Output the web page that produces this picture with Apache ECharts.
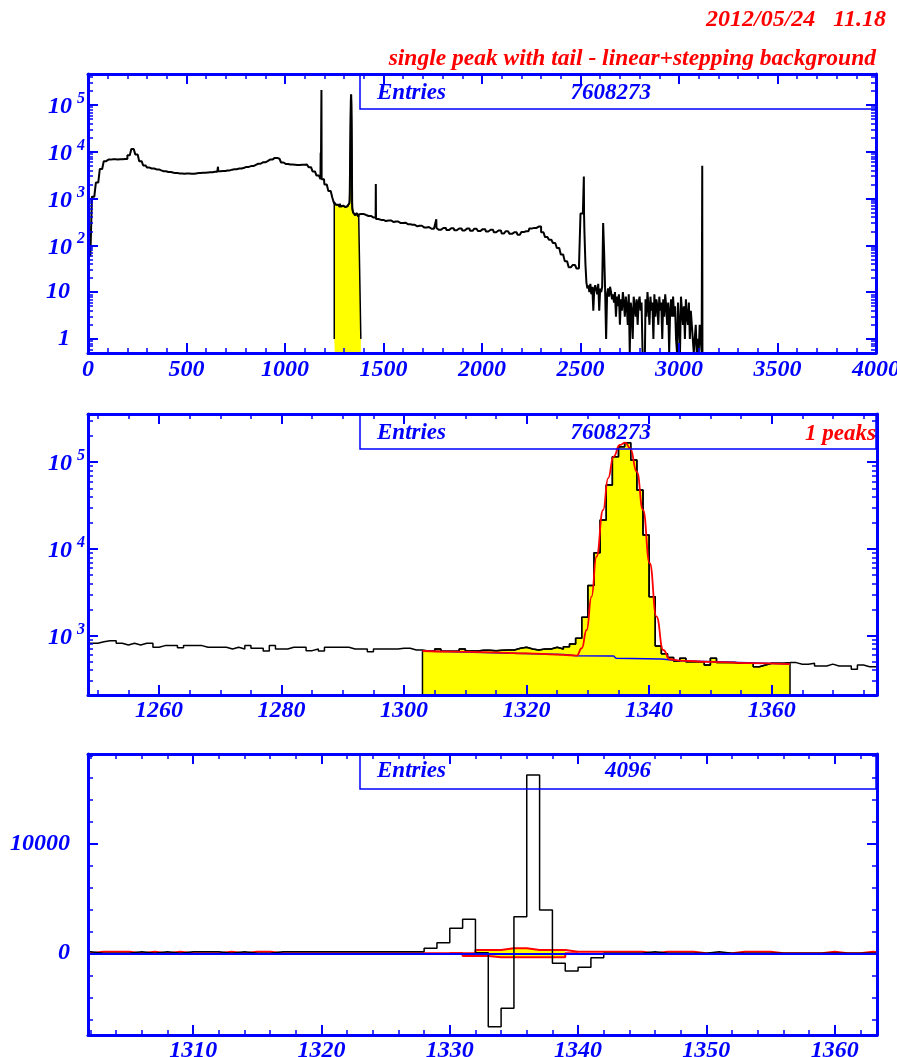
<!DOCTYPE html>
<html><head><meta charset="utf-8">
<script src="https://cdn.jsdelivr.net/npm/echarts@6.0.0/dist/echarts.min.js"></script>
<style>html,body{margin:0;padding:0;background:#fff}#c{width:897px;height:1057px}</style>
</head><body><div id="c"></div>
<script>
// ================= DATA =================
// Panel 1: full spectrum (channels), coarse 20-channel bins from 0 to 2520
const topCoarseStart = 0;
const topCoarseWidth = 20;
const topCoarseCounts = [
  60, 1100, 2200, 4300, 6300, 6800, 6900, 6850, 6900, 7000,
  8400, 11500, 8800, 6300, 5100, 4600, 4400, 4200, 4000, 3850,
  3700, 3600, 3500, 3450, 3400, 3420, 3380, 3450, 3500, 3550,
  3600, 3650, 3750, 3850, 3900, 4000, 4150, 4250, 4400, 4550,
  4750, 4950, 5250, 5550, 5950, 6300, 6800, 7400, 7100, 5900,
  5500, 5350, 5300, 5250, 5300, 5350, 4700, 3800, 3100, 2600,
  2000, 1450, 1050, 760, 720, 700, 690, 480, 470, 470,
  445, 425, 395, 365, 350, 330, 340, 315, 322, 300,
  305, 282, 275, 255, 262, 240, 246, 226, 234, 215,
  236, 212, 232, 210, 230, 208, 228, 204, 226, 202,
  222, 198, 216, 190, 208, 180, 200, 176, 190, 168,
  192, 200, 228, 236, 252, 190, 150, 132, 112, 88,
  64, 46, 34, 38, 32, 480
];
// fine 5-channel bins from 2520 to 3120 (noisy tail)
const topFineStart = 2520;
const topFineWidth = 5;
const topFineCounts = [
  190, 40,
  16, 12, 14, 10, 15, 9, 13, 4, 12, 14, 11, 9, 15, 4, 12, 10, 13, 300, 70, 11, 1, 9, 12, 8, 13, 10, 7,
  9, 6, 10, 3, 8, 5, 9, 2, 7, 4, 10, 6, 3, 8, 5, 2, 9, 0, 6, 4, 1, 8, 5, 3, 7, 2, 6,
  8, 4, 6, 0, 0, 0, 7, 3, 10, 5, 2, 8, 4, 6, 1, 9, 3, 7, 5, 2, 8, 4, 6, 1, 7, 3, 9, 5, 2, 6, 0, 4, 7, 3,
  8, 3, 5, 1, 0, 6, 2, 0, 8, 4, 2, 5, 1, 7, 3, 2, 6, 1, 4, 2,
  2, 0, 1, 2, 0, 1, 0, 2, 1, 0
];
// single-channel lines
const topSpikeChannels = [660, 1181, 1185, 1461, 1768, 2517, 3118];
const topSpikeCounts   = [4800, 9500, 210000, 2050, 360, 2970, 5000];
const topHighlightRange = [1250, 1385];
const topHighlightEdgeBase = 1;

// Panel 2: zoomed region, 1-channel bins starting at 1248
const zoomStart = 1248;
const zoomCounts = [
  817, 817, 850, 876, 876, 820, 782, 817, 782, 817,
  817, 735, 768, 768, 768, 728, 768, 768, 768, 735,
  735, 735, 735, 703, 735, 703, 768, 716, 716, 666,
  768, 703, 703, 735, 735, 735, 672, 703, 666, 735,
  735, 735, 735, 703, 703, 703, 654, 703, 703, 703,
  703, 716, 716, 684, 684, 666, 666, 703, 660, 660,
  660, 703, 666, 666, 680, 680, 670, 680, 684, 684,
  716, 735, 703, 684, 703, 703, 735, 703, 747, 802,
  933, 1630, 3780, 9060, 21600, 54700, 116000, 151000, 168000, 106000,
  48000, 14500, 2820, 760, 620, 560, 510, 548, 502, 502,
  502, 459, 548, 490, 490, 490, 480, 480, 480, 439,
  459, 480, 480, 480, 489, 489, 468, 468, 480, 448,
  448, 470, 448, 448, 448, 410, 459, 439, 439, 439
];
const fitRange = [1303, 1363];
const fitX = [1303, 1308, 1314, 1320, 1325, 1327, 1328.2, 1329, 1329.8, 1330.6, 1331.4, 1332.5, 1333.3, 1334.2, 1335.2, 1336.1, 1336.9, 1338.0, 1339.0, 1340.1, 1341.2, 1342.3, 1343.4, 1345, 1350, 1356, 1363];
const fitY = [666, 655, 643, 625, 606, 595, 590, 716, 1163, 2820, 8130, 28200, 65300, 116000, 158000, 168000, 145000, 77500, 28200, 6840, 1660, 684, 535, 515, 500, 482, 471];
const bgX = [1303, 1326, 1328, 1334.2, 1334.6, 1342, 1345, 1363];
const bgY = [666, 606, 588, 583, 549, 540, 515, 471];

// Panel 3: residuals, 1-channel bins starting at 1301
const resStart = 1301;
const residuals = [
  150, 0, 0, 0, 150, 0, 150, 0, 150, 150,
  150, 0, 150, 0, 0, 150, 150, 150, 150, 150,
  150, 150, 150, 150, 150, 150, 150, 455, 967, 2270,
  3090, 50, -6670, -5000, 3330, 16210, 3940, -910, -1610, -1270,
  -400, 0, 0, 0, 150, 0, 0, 0, 0, 150,
  0, 0, 0, 0, 0, 0, 0, 0, 0, 0,
  0, 0, 0
];
const fitDiffUpper = [
  0, 150, 150, 150, 0, 150, 0, 150, 0, 0,
  0, 150, 0, 150, 150, 0, 0, 0, 0, 0,
  0, 0, 0, 0, 0, 0, 0, 0, 0, 0,
  0, 300, 300, 455, 455, 300, 300, 300, 150, 150,
  150, 150, 150, 150, 0, 150, 150, 150, 0, 0,
  0, 150, 150, 150, 0, 0, 0, 0, 150, 0,
  0, 150, 0
];
const lowerStart = 1330;
const fitDiffLower = [0, -245, -245, -364, -364, -364, -364, -364, -364, 0];
const bandRange = [1332, 1339];

// Texts
const titleDate = '2012/05/24   11.18';
const titleText = 'single peak with tail - linear+stepping background';
const entriesLabel = 'Entries';
const entriesValues = ['7608273', '7608273', '4096'];
const peaksLabel = '1 peaks';

// Axis ranges
const P1X = [0, 4000], P1Y = [0.5, 4.6e5];
const P2X = [1248.4, 1377.2], P2Y = [207, 3.6e5];
const P3X = [1301.8, 1363.3], P3Y = [-7430, 18120];

// ================= BUILD =================
const BLUE = '#0000ff', RED = '#ff0000', YELLOW = '#ffff00', BLACK = '#000000';
const FONT_FAMILY = 'Liberation Serif';
const labelBase = {color: BLUE, fontFamily: FONT_FAMILY, fontWeight: 'bold', fontStyle: 'italic', fontSize: 24};

function topCount(c) {
  const s = topSpikeChannels.indexOf(c);
  if (s >= 0) return topSpikeCounts[s];
  if (c >= zoomStart && c < zoomStart + zoomCounts.length) return zoomCounts[c - zoomStart];
  if (c < topFineStart) return topCoarseCounts[Math.floor((c - topCoarseStart) / topCoarseWidth)];
  return topFineCounts[Math.floor((c - topFineStart) / topFineWidth)];
}
const topEnd = topFineStart + topFineCounts.length * topFineWidth;
const clampTop = v => Math.max(v, P1Y[0]);
const topData = [];
for (let c = topCoarseStart; c < topEnd; c++) topData.push([c, clampTop(topCount(c))]);
topData.push([topEnd, clampTop(topCount(topEnd - 1))]);

const topHl = [[topHighlightRange[0], topHighlightEdgeBase]];
for (let c = topHighlightRange[0]; c < topHighlightRange[1]; c++) topHl.push([c, clampTop(topCount(c))]);
topHl.push([topHighlightRange[1], clampTop(topCount(topHighlightRange[1] - 1))]);
topHl.push([topHighlightRange[1], topHighlightEdgeBase]);

const zoomData = zoomCounts.map((v, i) => [zoomStart + i, v]);
zoomData.push([zoomStart + zoomCounts.length, zoomCounts[zoomCounts.length - 1]]);
const zoomVal = x => zoomCounts[x - zoomStart];
const fitFill = [[fitRange[0], P2Y[0]]];
for (let x = fitRange[0]; x < fitRange[1]; x++) fitFill.push([x, zoomVal(x)]);
fitFill.push([fitRange[1], zoomVal(fitRange[1] - 1)]);
fitFill.push([fitRange[1], P2Y[0]]);
const fitData = fitX.map((x, i) => [x, fitY[i]]);
const bgData = bgX.map((x, i) => [x, bgY[i]]);

const resData = residuals.map((v, i) => [resStart + i, v]);
resData.push([resStart + residuals.length, residuals[residuals.length - 1]]);
const upData = fitDiffUpper.map((v, i) => [resStart + i, v]);
upData.push([resStart + fitDiffUpper.length, fitDiffUpper[fitDiffUpper.length - 1]]);
const lowData = fitDiffLower.map((v, i) => [lowerStart + i, v]);
lowData.push([lowerStart + fitDiffLower.length, fitDiffLower[fitDiffLower.length - 1]]);
const bandUp = [], bandLow = [];
for (let x = bandRange[0]; x < bandRange[1]; x++) {
  bandUp.push([x, fitDiffUpper[x - resStart]]);
  bandLow.push([x, fitDiffLower[x - lowerStart]]);
}
bandUp.push([bandRange[1], fitDiffUpper[bandRange[1] - 1 - resStart]]);
bandLow.push([bandRange[1], fitDiffLower[bandRange[1] - 1 - lowerStart]]);

function tickStyle(minorSplit) {
  return {
    axisLine: {show: true, onZero: false, lineStyle: {color: BLUE, width: 3}},
    axisTick: {show: true, inside: true, length: 10, lineStyle: {color: BLUE, width: 2}},
    minorTick: {show: true, splitNumber: minorSplit, length: 5, lineStyle: {color: BLUE, width: 1.5}},
    splitLine: {show: false}, minorSplitLine: {show: false}, z: 10
  };
}
function makeXAxes(gridIndex, range, splitNumber, minorSplit, margin) {
  const common = Object.assign({type: 'value', gridIndex, min: range[0], max: range[1], splitNumber}, tickStyle(minorSplit));
  return [
    Object.assign({}, common, {position: 'bottom', axisLabel: Object.assign({}, labelBase, {margin, formatter: v => Number.isInteger(v) ? String(v) : ''})}),
    Object.assign({}, common, {position: 'top', axisLabel: {show: false}})
  ];
}
const richLog = {
  n: Object.assign({}, labelBase, {padding: [0, 15, 0, 0]}),
  b: Object.assign({}, labelBase, {verticalAlign: 'bottom'}),
  s: Object.assign({}, labelBase, {fontSize: 16, padding: [0, 0, 12, 5], verticalAlign: 'bottom'})
};
function logLabel(v) {
  const e = Math.log10(v), r = Math.round(e);
  if (Math.abs(e - r) > 1e-6) return '';
  if (r === 0) return '{n|1}';
  if (r === 1) return '{n|10}';
  return '{b|10}{s|' + r + '}';
}
function makeLogYAxes(gridIndex, range) {
  const common = Object.assign({type: 'log', logBase: 10, gridIndex, min: range[0], max: range[1]}, tickStyle(9));
  return [
    Object.assign({}, common, {position: 'left', axisLabel: Object.assign({}, labelBase, {margin: 3, formatter: logLabel, rich: richLog})}),
    Object.assign({}, common, {position: 'right', axisLabel: {show: false}})
  ];
}
function makeLinYAxes(gridIndex, range, splitNumber, minorSplit) {
  const common = Object.assign({type: 'value', gridIndex, min: range[0], max: range[1], splitNumber}, tickStyle(minorSplit));
  return [
    Object.assign({}, common, {position: 'left', axisLabel: Object.assign({}, labelBase, {margin: 18, formatter: v => (v % 10000 === 0 ? String(v) : '')})}),
    Object.assign({}, common, {position: 'right', axisLabel: {show: false}})
  ];
}

const xAxis = [].concat(
  makeXAxes(0, P1X, 8, 5, 5),
  makeXAxes(1, P2X, 6, 4, 4),
  makeXAxes(2, P3X, 6, 5, 4)
);
const yAxis = [].concat(
  makeLogYAxes(0, P1Y),
  makeLogYAxes(1, P2Y),
  makeLinYAxes(2, P3Y, 3, 5)
);

function stepLine(xi, data, color, width, z, extra) {
  return Object.assign({type: 'line', xAxisIndex: xi, yAxisIndex: xi, data, step: 'end', symbol: 'none',
    lineStyle: {color, width}, z, silent: true}, extra || {});
}

const series = [
  // Panel 1
  stepLine(0, topHl, BLACK, 1.5, 2, {areaStyle: {color: YELLOW, opacity: 1, origin: 'start'}}),
  stepLine(0, topData, BLACK, 2, 3),
  // Panel 2
  stepLine(2, fitFill, BLACK, 1.5, 2, {areaStyle: {color: YELLOW, opacity: 1, origin: 'start'}}),
  stepLine(2, zoomData, BLACK, 1.5, 3),
  {type: 'line', xAxisIndex: 2, yAxisIndex: 2, data: bgData, symbol: 'none', lineStyle: {color: BLUE, width: 1.5}, z: 4, silent: true},
  {type: 'line', xAxisIndex: 2, yAxisIndex: 2, data: fitData, symbol: 'none', smooth: true, smoothMonotone: 'x', lineStyle: {color: RED, width: 1.8}, z: 5, silent: true},
  // Panel 3
  stepLine(4, bandUp, YELLOW, 0, 2, {areaStyle: {color: YELLOW, opacity: 1}}),
  stepLine(4, bandLow, YELLOW, 0, 2, {areaStyle: {color: YELLOW, opacity: 1}}),
  stepLine(4, upData, RED, 2, 3),
  stepLine(4, lowData, RED, 2, 3),
  stepLine(4, resData, BLACK, 1.5, 4),
  {type: 'line', xAxisIndex: 4, yAxisIndex: 4, data: [], symbol: 'none', z: 6, silent: true,
   markLine: {silent: true, symbol: ['none', 'none'], label: {show: false}, animation: false,
     lineStyle: {color: BLUE, width: 2, type: 'solid'}, data: [{yAxis: 0}]}}
];

const textFont = size => 'italic bold ' + size + 'px "' + FONT_FAMILY + '"';
const boxes = [
  {top: 74, cy: 93, value: entriesValues[0]},
  {top: 414, cy: 433, value: entriesValues[1]},
  {top: 754, cy: 771, value: entriesValues[2]}
];
const graphic = [];
boxes.forEach(b => {
  graphic.push({type: 'rect', z: 20, silent: true, shape: {x: 360, y: b.top, width: 516, height: 35},
    style: {fill: 'transparent', stroke: BLUE, lineWidth: 1.5}});
  graphic.push({type: 'text', z: 20, silent: true, x: 377, y: b.cy,
    style: {text: entriesLabel, fill: BLUE, font: textFont(23), align: 'left', verticalAlign: 'middle'}});
  graphic.push({type: 'text', z: 20, silent: true, x: 651, y: b.cy,
    style: {text: b.value, fill: BLUE, font: textFont(23), align: 'right', verticalAlign: 'middle'}});
});
graphic.push({type: 'text', z: 20, silent: true, x: 876, y: 434,
  style: {text: peaksLabel, fill: RED, font: textFont(23), align: 'right', verticalAlign: 'middle'}});
graphic.push({type: 'text', z: 20, silent: true, x: 886, y: 20,
  style: {text: titleDate, fill: RED, font: textFont(24), align: 'right', verticalAlign: 'middle'}});
graphic.push({type: 'text', z: 20, silent: true, x: 876, y: 59,
  style: {text: titleText, fill: RED, font: textFont(23.5), align: 'right', verticalAlign: 'middle'}});

const chart = echarts.init(document.getElementById('c'), null, {renderer: 'canvas'});
chart.setOption({
  animation: false,
  backgroundColor: '#ffffff',
  grid: [
    {left: 88, top: 74, width: 788, height: 279, containLabel: false, outerBoundsMode: 'none'},
    {left: 88, top: 414, width: 789, height: 281, containLabel: false, outerBoundsMode: 'none'},
    {left: 88, top: 754, width: 789, height: 281, containLabel: false, outerBoundsMode: 'none'}
  ],
  xAxis, yAxis, series, graphic
});
</script></body></html>
